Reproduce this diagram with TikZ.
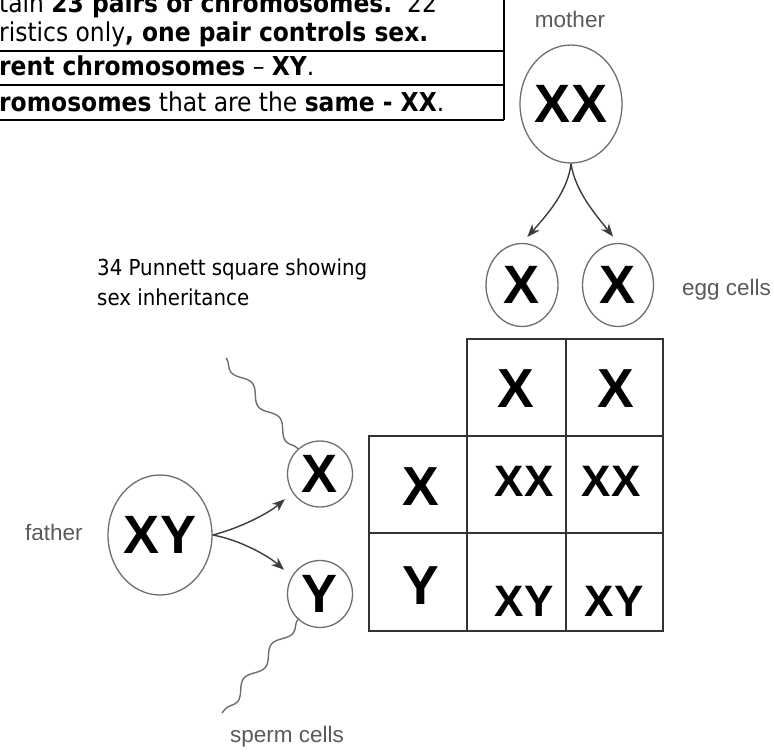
\documentclass[tikz,border=0pt]{standalone}
\usepackage{fontspec}
\usetikzlibrary{shapes.geometric,arrows.meta,decorations.pathmorphing}
\newfontfamily\notefont{DejaVu Sans Condensed}
\newfontfamily\labfont{Liberation Sans}
\definecolor{ringgray}{HTML}{6E6E6E}
\definecolor{labgray}{HTML}{5A5A5A}
\definecolor{arrowgray}{HTML}{3C3C3C}
\definecolor{gridgray}{HTML}{333333}

\begin{document}
\begin{tikzpicture}[x=1pt,y=-1pt,
  ring/.style={ellipse, draw=ringgray, line width=1.3pt, inner sep=0pt,
    font=\labfont\bfseries\fontsize{54}{54}\selectfont},
  lab/.style={anchor=base west, inner sep=0pt, text=labgray,
    font=\labfont\fontsize{22.5}{26}\selectfont},
  arr/.style={draw=arrowgray, line width=1.4pt,
    -{Stealth[length=13pt,width=10pt]}},
  tailline/.style={draw=ringgray, line width=1.4pt, decorate,
    decoration={snake, amplitude=5pt, segment length=44pt}},
  gridline/.style={draw=gridgray, line width=2pt},
  bigletter/.style={inner sep=0pt, font=\labfont\bfseries\fontsize{55}{55}\selectfont},
  pairletter/.style={inner sep=0pt, font=\labfont\bfseries\fontsize{44}{44}\selectfont},
  note/.style={anchor=base west, inner sep=0pt,
    font=\notefont\fontsize{26}{30}\selectfont},
  tablerule/.style={draw=black, line width=2.2pt}]

\useasboundingbox (0,0) rectangle (774,754);
\clip (0,0) rectangle (774,754);

% ---- notes table (its left part runs past the edge) ----
\draw[tablerule] (-10,51) -- (504,51);
\draw[tablerule] (-10,85) -- (504,85);
\draw[tablerule] (-10,120) -- (504,120);
\draw[tablerule] (504,-10) -- (504,120);
\node[note] (n1) at (-1,13) {tain \textbf{23 pairs of chromosomes.}\ \ 22};
\node[note] (n2) at (-1,42) {ristics only\textbf{, one pair controls sex.}};
\node[note] (n3) at (-1,76) {\textbf{rent chromosomes} – \textbf{XY}.};
\node[note] (n4) at (-1,112) {\textbf{romosomes} that are the \textbf{same - XX}.};

% ---- caption ----
\node[note, font=\notefont\fontsize{22}{30}\selectfont, align=left,
      anchor=north west] (cap) at (97,259)
  {34 Punnett square showing\\sex inheritance};

% ---- mother and egg cells ----
\node[lab, anchor=base] (mlab) at (570,28) {mother};
\node[ring, minimum width=102pt, minimum height=118pt] (mother) at (571,104) {XX};
\node[ring, minimum width=72pt, minimum height=83pt] (eggL) at (522,285) {X};
\node[ring, minimum width=71pt, minimum height=83pt] (eggR) at (618,285) {X};
\node[lab] (elab) at (682,295) {egg cells};
\draw[arr, shorten >=8pt] (mother.south) .. controls +(-3,27) and +(26,-29) .. (eggL.north);
\draw[arr, shorten >=8pt] (mother.south) .. controls +(4,27) and +(-23,-29) .. (eggR.north);

% ---- father and sperm cells ----
\node[lab] (flab) at (25,540) {father};
\node[ring, minimum width=104pt, minimum height=120pt] (father) at (160,535) {XY};
\node[ring, minimum width=65pt, minimum height=66pt] (spX) at (320,474) {X};
\node[ring, minimum width=65pt, minimum height=67pt] (spY) at (320,594) {Y};
\node[lab] (slab) at (230,742) {sperm cells};
\coordinate (tailXend) at (226,358);
\coordinate (tailYend) at (222,713);
\draw[arr, shorten >=10pt] (father.east) .. controls +(28,-7) and +(-23,20) .. (spX.214);
\draw[arr, shorten >=10pt] (father.east) .. controls +(28,5) and +(-23,-20) .. (spY.148);
\draw[tailline] (spX.131) -- (tailXend);
\draw[tailline] (spY.229) -- (tailYend);

% ---- Punnett square ----
\draw[gridline] (467,339) rectangle (663,631);
\draw[gridline] (369,436) rectangle (467,631);
\draw[gridline] (566,339) -- (566,631);
\draw[gridline] (467,436) -- (663,436);
\draw[gridline] (369,533) -- (663,533);
\node[bigletter] (tX1) at (516,389) {X};
\node[bigletter] (tX2) at (616,389) {X};
\node[bigletter] (sX) at (421,487) {X};
\node[bigletter] (sY) at (421,586) {Y};
\node[pairletter] (c11) at (524,481) {XX};
\node[pairletter] (c12) at (611,481) {XX};
\node[pairletter] (c21) at (524,601) {XY};
\node[pairletter] (c22) at (614,601) {XY};
\end{tikzpicture}
\end{document}
